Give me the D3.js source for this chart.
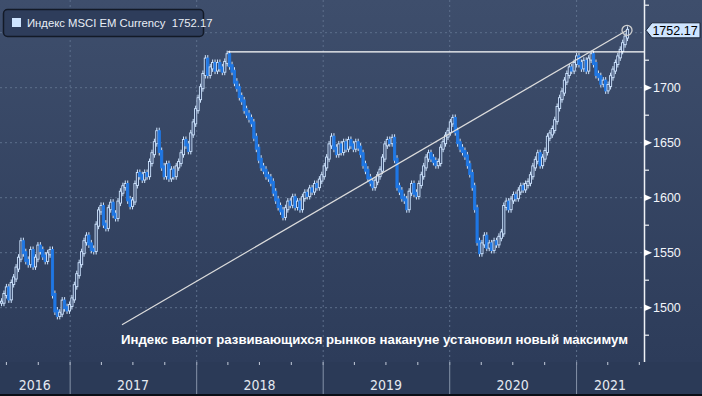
<!DOCTYPE html>
<html>
<head>
<meta charset="utf-8">
<script src="https://cdn.jsdelivr.net/npm/d3@7"></script>
<style>
  body { margin: 0; background: #000; }
  svg { display: block; }
</style>
</head>
<body>
<script>
// weekly closes of the MSCI EM Currency index, first week ending 2016-06-17
const firstWeek = '2016-06-17';
const closes = [
  1505, 1512, 1518, 1508, 1522, 1527, 1536, 1545, 1560, 1550,
  1543, 1540, 1552, 1538, 1545, 1556, 1552, 1547, 1543, 1549,
  1552, 1512, 1497, 1493, 1495, 1506, 1500, 1498, 1502, 1508,
  1520, 1530, 1540, 1550, 1560, 1565, 1558, 1553, 1552, 1575,
  1588, 1592, 1576, 1573, 1590, 1595, 1585, 1582, 1596, 1605,
  1610, 1612, 1598, 1593, 1597, 1612, 1622, 1620, 1617, 1622,
  1620, 1632, 1640, 1650, 1660, 1642, 1628, 1620, 1630, 1618,
  1625, 1620, 1628, 1632, 1640, 1652, 1648, 1643, 1658, 1668,
  1680, 1690, 1700, 1712, 1726, 1712, 1718, 1722, 1716, 1722,
  1718, 1715, 1723, 1730, 1720, 1715, 1705, 1700, 1692, 1688,
  1680, 1676, 1672, 1668, 1655, 1645, 1635, 1628, 1625, 1620,
  1618, 1614, 1605, 1598, 1592, 1588, 1583, 1590, 1596, 1594,
  1600, 1592, 1596, 1590, 1600, 1604, 1602, 1608, 1606, 1612,
  1610, 1616, 1620, 1628, 1636, 1648, 1655, 1645, 1640, 1648,
  1642, 1650, 1645, 1652, 1648, 1645, 1650, 1646, 1640, 1630,
  1625, 1618, 1614, 1610, 1615, 1620, 1625, 1636, 1648, 1652,
  1650, 1654, 1635, 1610, 1606, 1600, 1598, 1590, 1605, 1612,
  1604, 1602, 1612, 1620, 1628, 1636, 1640, 1636, 1633, 1630,
  1632, 1645, 1650, 1656, 1660, 1668, 1672, 1660, 1650, 1645,
  1642, 1638, 1630, 1622, 1610, 1590, 1560, 1550, 1558, 1565,
  1555, 1558, 1553, 1560, 1558, 1564, 1568, 1592, 1596, 1590,
  1598, 1602, 1600, 1606, 1610, 1608, 1612, 1614, 1620, 1628,
  1634, 1640, 1630, 1636, 1642, 1655, 1658, 1662, 1670, 1682,
  1690, 1696, 1706, 1712, 1718, 1716, 1722, 1728, 1722, 1718,
  1724, 1716, 1726, 1730, 1722, 1712, 1710, 1704, 1706, 1698,
  1702, 1710, 1716, 1722, 1728, 1734, 1740, 1746, 1752.17
];
const yTicks = [1500, 1550, 1600, 1650, 1700];
const yGrid = [1500, 1550, 1600, 1650, 1700, 1750];
const yMinor = [1475, 1525, 1575, 1625, 1675, 1725, 1775];
const years = [2016, 2017, 2018, 2019, 2020, 2021];
const legendText = 'Индекс MSCI EM Currency  1752.17';
const lastLabel = '1752.17';
const note = 'Индекс валют развивающихся рынков накануне установил новый максимум';
const resistance = { from: '2018-04-02', value: 1732.5 };
const trendStart = { date: '2017-06-01', value: 1484.5 };

const W = 702, H = 396;
const plotR = 644, bandTop = 362, bandBot = 394;

const parse = d3.utcParse('%Y-%m-%d');
const t0 = parse(firstWeek);
const data = closes.map((c, i) => ({
  date: d3.utcDay.offset(t0, i * 7),
  open: i ? closes[i - 1] : c,
  close: c
}));
const last = data[data.length - 1];

const x = d3.scaleUtc()
  .domain([parse('2016-06-14'), parse('2021-07-16')])
  .range([0, plotR]);
const y = d3.scaleLinear().domain([1500, 1700]).range([307.7, 87.7]);

const svg = d3.select('body').append('svg')
  .attr('width', W).attr('height', H);

const grad = svg.append('defs').append('linearGradient')
  .attr('id', 'bg').attr('x1', 0).attr('x2', 0).attr('y1', 0).attr('y2', 1);
grad.append('stop').attr('offset', 0).attr('stop-color', '#3e4e6c');
grad.append('stop').attr('offset', 1).attr('stop-color', '#2d3c5a');

svg.append('rect').attr('width', W).attr('height', bandTop).attr('fill', 'url(#bg)');
svg.append('rect').attr('y', bandTop).attr('width', W).attr('height', bandBot - bandTop)
  .attr('fill', '#2b3a57');
svg.append('rect').attr('y', bandBot).attr('width', W).attr('height', H - bandBot)
  .attr('fill', '#0a0e16');

// grid
const yearStarts = years.slice(1).map(yr => new Date(Date.UTC(yr, 0, 1)));
svg.append('g').selectAll('line').data(yGrid).join('line')
  .attr('x1', 0).attr('x2', plotR)
  .attr('y1', d => y(d)).attr('y2', d => y(d))
  .attr('stroke', '#5d6f8c').attr('stroke-dasharray', '2,3');
svg.append('g').selectAll('line').data(yearStarts).join('line')
  .attr('x1', d => x(d) + 0.5).attr('x2', d => x(d) + 0.5)
  .attr('y1', 0).attr('y2', bandTop)
  .attr('stroke', '#5d6f8c').attr('stroke-dasharray', '2,3');

// bottom time band
const xAxis = svg.append('g').attr('transform', `translate(0,${bandTop})`)
  .call(d3.axisBottom(x).ticks(d3.utcMonth.every(3)).tickSize(3).tickFormat(''));
xAxis.select('.domain').remove();
xAxis.selectAll('line').attr('stroke', '#c4ccda');
svg.append('g').selectAll('line').data(yearStarts).join('line')
  .attr('x1', d => x(d) + 0.5).attr('x2', d => x(d) + 0.5)
  .attr('y1', bandTop).attr('y2', bandBot)
  .attr('stroke', '#8592a8');
svg.append('g').selectAll('text').data(years).join('text')
  .attr('x', yr => {
    const a = Math.max(0, x(new Date(Date.UTC(yr, 0, 1))));
    const b = Math.min(plotR, x(new Date(Date.UTC(yr + 1, 0, 1))));
    return (a + b) / 2;
  })
  .attr('y', 390)
  .attr('text-anchor', 'middle')
  .attr('font-family', '"Liberation Sans Narrow", "DejaVu Sans Condensed", sans-serif')
  .attr('font-size', 14)
  .attr('fill', '#e4e9f1')
  .text(d => d);

// candles
const pale = '#cfe5ff', blue = '#1f77e4';
const bw = 2.2, wick = 4;
const cg = svg.append('g');
cg.selectAll('line').data(data).join('line')
  .attr('x1', d => x(d.date) + 0.5).attr('x2', d => x(d.date) + 0.5)
  .attr('y1', d => y(Math.max(d.open, d.close)) - wick)
  .attr('y2', d => y(Math.min(d.open, d.close)) + wick)
  .attr('stroke', pale);
cg.selectAll('rect').data(data).join('rect')
  .attr('x', d => x(d.date) - bw / 2 + 0.5)
  .attr('y', d => y(Math.max(d.open, d.close)) - 1)
  .attr('width', bw)
  .attr('height', d => Math.abs(y(d.open) - y(d.close)) + 2)
  .attr('fill', d => d.close < d.open ? blue : '#33456a')
  .attr('stroke', d => d.close < d.open ? blue : pale).attr('stroke-width', 0.9);

// resistance and trend lines
svg.append('line')
  .attr('x1', x(parse(resistance.from))).attr('x2', plotR)
  .attr('y1', y(resistance.value)).attr('y2', y(resistance.value))
  .attr('stroke', '#ffffff').attr('stroke-width', 1.3);
svg.append('line')
  .attr('x1', x(parse(trendStart.date))).attr('y1', y(trendStart.value))
  .attr('x2', x(last.date)).attr('y2', y(last.close))
  .attr('stroke', '#dcdcdc').attr('stroke-width', 1.2);
svg.append('circle')
  .attr('cx', x(last.date)).attr('cy', y(last.close)).attr('r', 5)
  .attr('fill', 'none').attr('stroke', '#cfcfcf').attr('stroke-width', 1.3);

// right axis
svg.append('line').attr('x1', plotR + 0.5).attr('x2', plotR + 0.5)
  .attr('y1', 0).attr('y2', bandTop)
  .attr('stroke', '#eef1f6').attr('stroke-width', 1.5);
svg.append('g').selectAll('line').data(yMinor).join('line')
  .attr('x1', plotR).attr('x2', plotR + 5)
  .attr('y1', d => y(d)).attr('y2', d => y(d))
  .attr('stroke', '#eef1f6').attr('stroke-width', 1.2);
const yt = svg.append('g').selectAll('g').data(yTicks).join('g')
  .attr('transform', d => `translate(${plotR},${y(d)})`);
yt.append('path').attr('d', 'M0,-3.5L8,0L0,3.5Z').attr('fill', '#ffffff');
yt.append('text').attr('x', 9).attr('dy', '0.36em')
  .attr('font-family', '"Liberation Sans", Arial, sans-serif')
  .attr('font-size', 12.5).attr('fill', '#f2f5fa')
  .text(d => d);

// last price tag
const ly = y(last.close);
svg.append('path')
  .attr('d', `M${plotR + 2},${ly}L${plotR + 8},${ly - 7.5}H700V${ly + 7.5}H${plotR + 8}Z`)
  .attr('fill', pale).attr('stroke', '#1b2538');
svg.append('text').attr('x', 675).attr('y', ly).attr('dy', '0.36em')
  .attr('text-anchor', 'middle')
  .attr('font-family', '"Liberation Sans", Arial, sans-serif')
  .attr('font-size', 12.5).attr('fill', '#000')
  .text(lastLabel);

// legend
svg.append('rect').attr('x', 3.5).attr('y', 9.5).attr('width', 200).attr('height', 27)
  .attr('rx', 4).attr('fill', '#2e3d5b').attr('stroke', '#131a27').attr('stroke-width', 1.5);
svg.append('rect').attr('x', 12).attr('y', 18).attr('width', 9).attr('height', 9).attr('fill', pale);
svg.append('text').attr('x', 27).attr('y', 27)
  .attr('font-family', '"Liberation Sans", Arial, sans-serif')
  .attr('font-size', 11.3).attr('fill', '#e9eef6')
  .style('white-space', 'pre')
  .text(legendText);

// note
svg.append('text').attr('x', 121).attr('y', 344)
  .attr('font-family', '"Liberation Sans", Arial, sans-serif')
  .attr('font-weight', 'bold')
  .attr('font-size', 13.2).attr('fill', '#ffffff')
  .text(note);
</script>
</body>
</html>
